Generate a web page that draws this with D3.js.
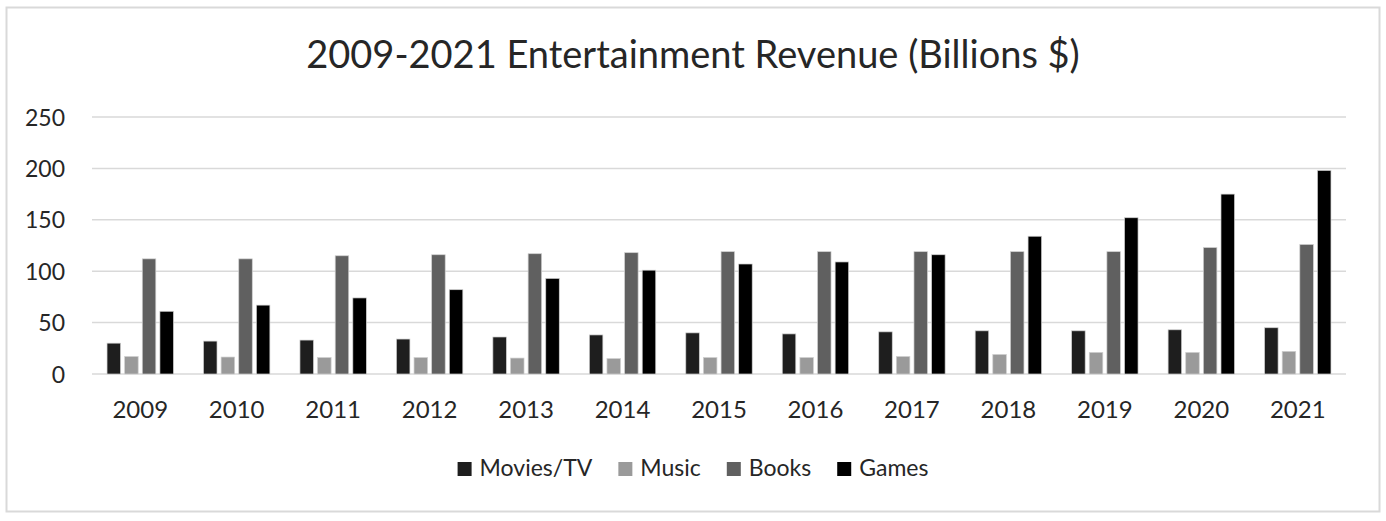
<!DOCTYPE html>
<html>
<head>
<meta charset="utf-8">
<script src="https://cdn.jsdelivr.net/npm/d3@7"></script>
<style>
  body { margin: 0; background: #fff; }
  text { font-family: Lato, "Open Sans", sans-serif; fill: #262626; }
</style>
</head>
<body>
<div id="chart"></div>
<script>
// data
var years = ["2009", "2010", "2011", "2012", "2013", "2014", "2015", "2016", "2017", "2018", "2019", "2020", "2021"];
var seriesNames = ["Movies/TV", "Music", "Books", "Games"];
var moviesTv = [30, 32, 33, 34, 36, 38, 40, 39, 41, 42, 42, 43, 45];
var music = [17, 16.5, 16, 16, 15.5, 15, 16, 16, 17, 19, 21, 21, 22];
var books = [112, 112, 115, 116, 117, 118, 119, 119, 119, 119, 119, 123, 126];
var games = [61, 67, 74, 82, 93, 101, 107, 109, 116, 134, 152, 175, 198];
var yTicks = [0, 50, 100, 150, 200, 250];

var colors = ["#1e1e1e", "#9a9a9a", "#606060", "#000000"];
var values = [moviesTv, music, books, games];

var W = 1386, H = 521;
var margin = { top: 117, right: 40, bottom: 147, left: 92 },
    width = W - margin.left - margin.right,
    height = H - margin.top - margin.bottom;

var svg = d3.select("#chart").append("svg")
    .attr("width", W)
    .attr("height", H);

// outer frame
svg.append("rect")
    .attr("x", 6.5).attr("y", 7.5)
    .attr("width", 1373).attr("height", 504)
    .attr("fill", "#fff")
    .attr("stroke", "#d9d9d9")
    .attr("stroke-width", 2);

svg.append("text")
    .attr("x", 693).attr("y", 68)
    .attr("text-anchor", "middle")
    .style("font-size", "38px")
    .text("2009-2021 Entertainment Revenue (Billions $)");

var g = svg.append("g")
    .attr("transform", "translate(" + margin.left + "," + margin.top + ")");

var x0 = d3.scaleBand().domain(years).range([0, width]);
var x1 = d3.scaleBand().domain(seriesNames).range([-33.2, 33.2]).paddingInner(0.233);
var y = d3.scaleLinear().domain([0, 250]).range([height, 0]);

// gridlines
g.append("g")
    .selectAll("line")
    .data(yTicks)
    .enter()
    .append("line")
    .attr("x1", 0).attr("x2", width)
    .attr("y1", function (d) { return y(d); })
    .attr("y2", function (d) { return y(d); })
    .attr("stroke", "#d9d9d9")
    .attr("stroke-width", 1.5);

// y axis labels
var yAxis = g.append("g")
    .attr("transform", "translate(-27,0)")
    .call(d3.axisLeft(y).tickValues(yTicks).tickSize(0).tickPadding(0));
yAxis.select(".domain").remove();
yAxis.selectAll("text")
    .style("font-size", "23px")
    .attr("font-family", null)
    .attr("fill", null)
    .attr("dy", "0.35em");

// x axis labels
var xAxis = g.append("g")
    .attr("transform", "translate(0," + height + ")")
    .call(d3.axisBottom(x0).tickSize(0));
xAxis.select(".domain").remove();
xAxis.selectAll("text")
    .style("font-size", "24px")
    .attr("font-family", null)
    .attr("fill", null)
    .attr("y", 44)
    .attr("dy", 0);

// bars
var groups = g.append("g")
    .selectAll("g")
    .data(years)
    .enter()
    .append("g")
    .attr("transform", function (d) { return "translate(" + (x0(d) + x0.bandwidth() / 2) + ",0)"; });

groups.selectAll("rect")
    .data(function (d, i) {
        return seriesNames.map(function (s, k) { return { key: s, value: values[k][i], color: colors[k] }; });
    })
    .enter()
    .append("rect")
    .attr("x", function (d) { return x1(d.key); })
    .attr("width", x1.bandwidth())
    .attr("y", function (d) { return y(d.value); })
    .attr("height", function (d) { return height - y(d.value); })
    .attr("fill", function (d) { return d.color; })
    .attr("stroke", "#cfcfcf")
    .attr("stroke-width", 0.7);

// legend
var legend = svg.append("g");
var items = legend.selectAll("g")
    .data(seriesNames)
    .enter()
    .append("g");
items.append("rect")
    .attr("width", 14).attr("height", 14)
    .attr("y", -14)
    .attr("fill", function (d, i) { return colors[i]; });
items.append("text")
    .attr("x", 22)
    .attr("y", 0)
    .style("font-size", "23px")
    .text(function (d) { return d; });

var pos = 0;
items.each(function () {
    var w = 22 + d3.select(this).select("text").node().getComputedTextLength();
    d3.select(this).attr("transform", "translate(" + pos + ",0)");
    pos += w + 26;
});
pos -= 26;
legend.attr("transform", "translate(" + (693 - pos / 2) + ",476)");
</script>
</body>
</html>
